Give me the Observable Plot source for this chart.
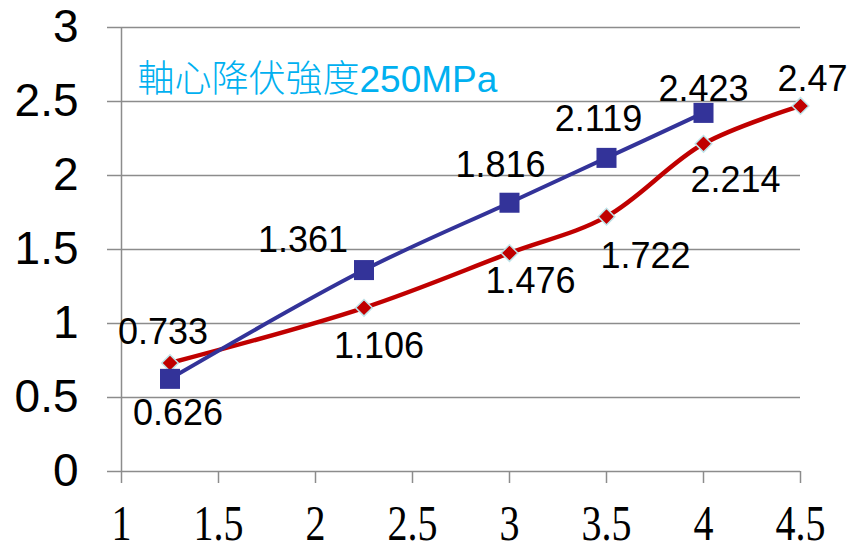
<!DOCTYPE html>
<html>
<head>
<meta charset="utf-8">
<script src="https://cdn.jsdelivr.net/npm/d3@7"></script>
<script src="https://cdn.jsdelivr.net/npm/@observablehq/plot@0.6"></script>
<style>
  body { margin: 0; background: #fff; }
</style>
</head>
<body>
<div id="chart"></div>
<script>
// Series title shown inside the plot area
const seriesTitle = "軸心降伏強度250MPa";

// Blue series (square markers)
const blueX = [1.25, 2.25, 3, 3.5, 4];
const blueY = [0.626, 1.361, 1.816, 2.119, 2.423];

// Red series (diamond markers)
const redX = [1.25, 2.25, 3, 3.5, 4, 4.5];
const redY = [0.733, 1.106, 1.476, 1.722, 2.214, 2.47];

// Axis ticks
const xTicks = [1, 1.5, 2, 2.5, 3, 3.5, 4, 4.5];
const yTicks = [0, 0.5, 1, 1.5, 2, 2.5, 3];

// Pixel nudges for each value label, relative to its point
const blueLabelNudge = [[8, 35], [-61, -30], [-9, -37], [-8, -38], [0, -23]];
const redLabelNudge = [[-7, -31], [15, 39], [21, 28], [39, 40], [32, 37], [12, -26]];

const blue = blueX.map((x, i) => ({x, y: blueY[i]}));
const red = redX.map((x, i) => ({x, y: redY[i]}));

const BLUE = "#333399";
const RED = "#c00000";
const GRID = "#8c8c8c";

const valueLabels = (data, nudges) =>
  data.map((d, i) =>
    Plot.text([d], {
      x: "x",
      y: "y",
      text: (d) => String(d.y),
      dx: nudges[i][0],
      dy: nudges[i][1],
      fontSize: 36,
      fill: "#000",
      lineAnchor: "middle"
    })
  );

const svg = Plot.plot({
  width: 848,
  height: 551,
  marginLeft: 121,
  marginRight: 48,
  marginTop: 27,
  marginBottom: 80,
  style: {
    fontFamily: "'Liberation Sans', Arial, sans-serif",
    background: "#fff",
    color: "#000",
    overflow: "visible"
  },
  x: {domain: [1, 4.5]},
  y: {domain: [0, 3]},
  marks: [
    Plot.gridY(yTicks, {stroke: GRID, strokeOpacity: 1, strokeWidth: 1.5}),
    Plot.ruleX([1], {stroke: GRID, strokeWidth: 1.5}),
    Plot.axisY(yTicks, {
      label: null,
      tickSize: 14,
      tickPadding: 29,
      fontSize: 46,
      stroke: GRID,
      strokeWidth: 1.5,
      tickFormat: (d) => String(d)
    }),
    Plot.axisX(xTicks, {
      label: null,
      tickSize: 12,
      tickPadding: 21,
      fontSize: 50,
      fontFamily: "'Liberation Serif', 'Times New Roman', serif",
      stroke: GRID,
      strokeWidth: 1.5,
      tickFormat: (d) => String(d)
    }),
    Plot.line(red, {x: "x", y: "y", curve: "catmull-rom", stroke: RED, strokeWidth: 4.5}),
    Plot.dot(red, {x: "x", y: "y", symbol: "diamond2", r: 7.5, fill: RED, stroke: "#bfe5ea", strokeWidth: 1.5}),
    Plot.line(blue, {x: "x", y: "y", curve: "catmull-rom", stroke: BLUE, strokeWidth: 4}),
    Plot.dot(blue, {x: "x", y: "y", symbol: "square", r: 11.3, fill: BLUE, stroke: "none"}),
    ...valueLabels(blue, blueLabelNudge),
    ...valueLabels(red, redLabelNudge),
    Plot.text([seriesTitle], {
      frameAnchor: "top-left",
      textAnchor: "start",
      lineAnchor: "middle",
      dx: 16,
      dy: 53,
      fontSize: 37,
      fontFamily: "'Liberation Sans', 'Noto Sans CJK TC', sans-serif",
      fontWeight: 300,
      fill: "#00b0f0"
    })
  ]
});

document.getElementById("chart").appendChild(svg);

// The bottom tick labels use a tall, narrow serif face:
// squeeze each label horizontally about its own centre.
svg.querySelectorAll('g[aria-label="x-axis tick label"] text').forEach((node) => {
  const b = node.getBBox();
  const cx = b.x + b.width / 2;
  const prev = node.getAttribute("transform") || "";
  node.setAttribute(
    "transform",
    `${prev} translate(${cx},0) scale(0.8,1) translate(${-cx},0)`.trim()
  );
});
</script>
</body>
</html>
